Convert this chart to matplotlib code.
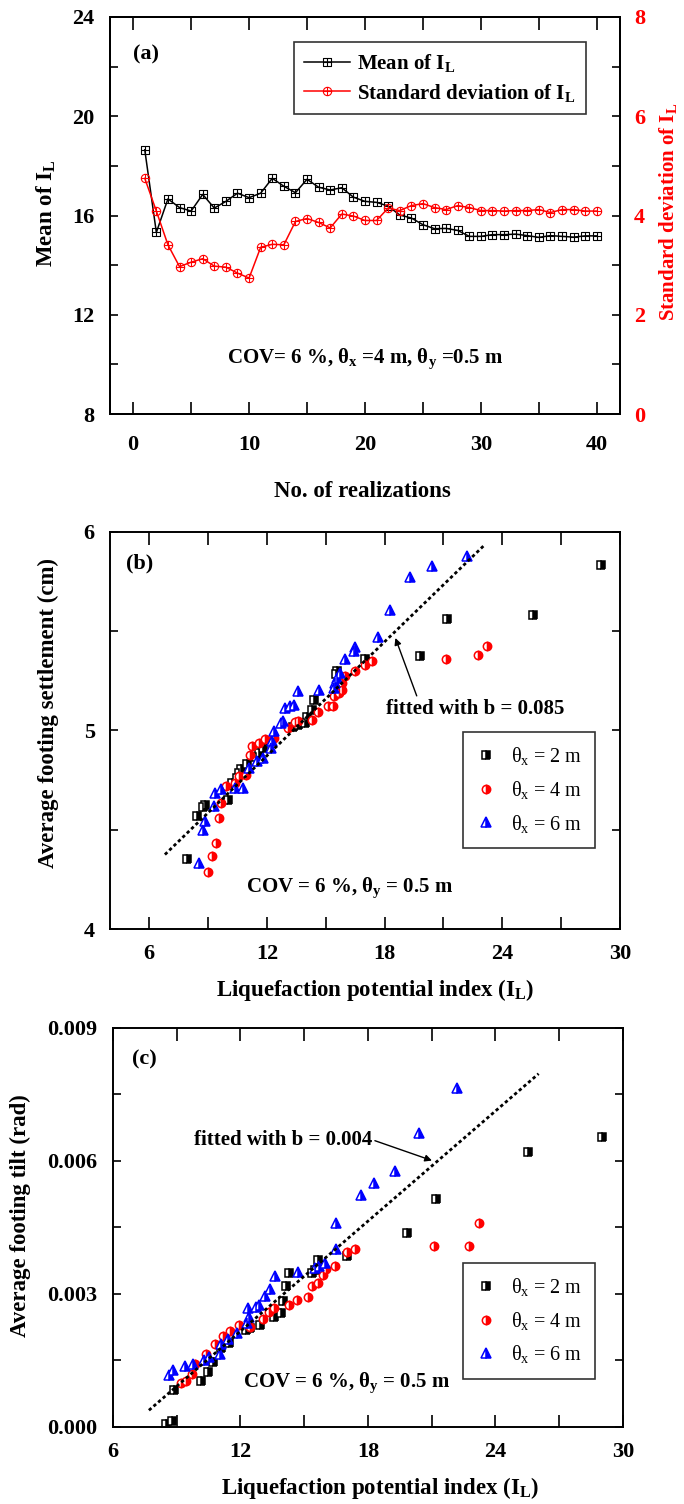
import matplotlib
matplotlib.use("Agg")
import matplotlib.pyplot as plt
from matplotlib.path import Path
from matplotlib.ticker import MultipleLocator, FormatStrFormatter

plt.rcParams['font.family'] = ['Liberation Serif', 'DejaVu Serif']
plt.rcParams['mathtext.fontset'] = 'custom'
plt.rcParams['mathtext.rm'] = 'Liberation Serif'
plt.rcParams['mathtext.it'] = 'Liberation Serif'
plt.rcParams['mathtext.bf'] = 'Liberation Serif:bold'

# ---------------- data: panel (a) ----------------
realizations = list(range(1, 41))
mean_IL = [18.65, 15.32, 16.67, 16.32, 16.18, 16.85, 16.3, 16.57, 16.9, 16.72,
           16.9, 17.5, 17.18, 16.92, 17.46, 17.14, 17.03, 17.12, 16.74, 16.57,
           16.53, 16.38, 16.02, 15.9, 15.63, 15.47, 15.48, 15.4, 15.16, 15.16,
           15.23, 15.23, 15.25, 15.19, 15.12, 15.19, 15.16, 15.13, 15.18, 15.18]
std_IL = [4.75, 4.09, 3.41, 2.97, 3.06, 3.13, 2.98, 2.96, 2.84, 2.74,
          3.36, 3.42, 3.41, 3.88, 3.94, 3.86, 3.75, 4.03, 3.99, 3.90,
          3.90, 4.15, 4.10, 4.20, 4.24, 4.16, 4.12, 4.20, 4.16, 4.10,
          4.10, 4.09, 4.10, 4.10, 4.12, 4.06, 4.12, 4.12, 4.09, 4.09]

# ---------------- data: panel (b) settlement ----------------
b_x2_IL = [29.03, 25.55, 21.2, 19.8, 16.98, 15.56, 15.52, 14.42, 14.28, 14.06,
           13.95, 13.61, 13.34, 11.81, 11.59, 11.43, 10.98, 10.69, 10.58, 10.47,
           10.24, 10.02, 8.85, 8.72, 8.45, 7.95]
b_x2_S = [5.832, 5.58, 5.56, 5.374, 5.36, 5.30, 5.286, 5.155, 5.105, 5.07,
          5.04, 5.03, 5.02, 4.91, 4.887, 4.867, 4.833, 4.806, 4.786, 4.76,
          4.735, 4.65, 4.626, 4.614, 4.571, 4.353]
b_x4_IL = [23.22, 22.77, 21.15, 17.38, 16.98, 16.48, 15.97, 15.85, 15.81, 15.67,
           15.41, 15.36, 15.14, 14.62, 14.28, 13.61, 13.43, 13.05, 12.37, 11.92,
           11.59, 11.25, 11.14, 10.92, 10.58, 10.35, 9.91, 9.68, 9.57, 9.39,
           9.19, 8.99]
b_x4_S = [5.424, 5.382, 5.36, 5.348, 5.332, 5.298, 5.273, 5.239, 5.206, 5.189,
          5.172, 5.125, 5.122, 5.092, 5.055, 5.046, 5.041, 5.013, 4.962, 4.957,
          4.937, 4.924, 4.878, 4.778, 4.772, 4.735, 4.719, 4.635, 4.56, 4.433,
          4.369, 4.287]
b_x6_IL = [22.18, 20.41, 19.27, 18.26, 17.65, 16.48, 16.42, 15.97, 15.74, 15.58,
           15.45, 15.41, 14.67, 13.61, 13.38, 13.16, 12.94, 12.82, 12.71, 12.37,
           12.26, 12.22, 11.81, 11.48, 11.1, 10.76, 10.35, 9.68, 9.34, 9.3,
           8.85, 8.72, 8.56]
b_x6_S = [5.881, 5.827, 5.773, 5.605, 5.471, 5.419, 5.399, 5.36, 5.29, 5.264,
          5.239, 5.214, 5.202, 5.197, 5.13, 5.122, 5.113, 5.046, 5.038, 4.996,
          4.945, 4.912, 4.861, 4.845, 4.811, 4.71, 4.71, 4.705, 4.685, 4.618,
          4.542, 4.497, 4.332]
b_fit_IL = [6.8, 23.1]
b_fit_S = [4.375, 5.935]

# ---------------- data: panel (c) tilt ----------------
c_x2_IL = [29.0, 25.52, 21.18, 19.82, 16.99, 15.64, 15.5, 15.38, 14.3, 14.14,
           13.99, 13.89, 13.58, 12.92, 12.44, 12.24, 11.45, 11.1, 10.69, 10.48,
           10.13, 8.89, 8.77, 8.48]
c_x2_T = [0.006537, 0.006213, 0.005143, 0.004368, 0.003864, 0.003766, 0.00354,
          0.003465, 0.003465, 0.003186, 0.002847, 0.002576, 0.002485, 0.002297,
          0.002222, 0.002199, 0.001898, 0.001792, 0.001469, 0.001243, 0.001039,
          0.000844, 0.000136, 0.000075]
c_x4_IL = [23.22, 21.12, 22.73, 17.4, 16.99, 16.47, 16.02, 15.86, 15.64, 15.38,
           15.19, 14.67, 14.3, 13.58, 13.33, 13.06, 12.44, 11.93, 11.51, 11.16,
           10.79, 10.38, 9.86, 9.7, 9.45, 9.18]
c_x4_T = [0.004594, 0.004082, 0.004082, 0.004007, 0.003939, 0.003638, 0.003562,
          0.003427, 0.003239, 0.003178, 0.002922, 0.002862, 0.002749, 0.002674,
          0.002598, 0.002425, 0.002259, 0.002297, 0.002169, 0.002049, 0.001883,
          0.001642, 0.001431, 0.001205, 0.001039, 0.000994]
c_x6_IL = [22.21, 20.39, 19.26, 18.27, 17.69, 16.51, 16.51, 15.99, 15.71, 15.5,
           14.72, 13.62, 13.41, 13.17, 12.86, 12.75, 12.36, 12.4, 12.3, 11.82,
           11.41, 11.1, 11.04, 10.54, 10.28, 9.76, 9.39, 8.83, 8.62]
c_x6_T = [0.007644, 0.006642, 0.005784, 0.005513, 0.005234, 0.004609, 0.004007,
          0.00369, 0.00363, 0.003577, 0.003487, 0.003404, 0.003103, 0.00296,
          0.002749, 0.002711, 0.002689, 0.002485, 0.002335, 0.002109, 0.001996,
          0.001883, 0.001657, 0.001582, 0.001506, 0.001431, 0.001371, 0.00128,
          0.001167]
c_fit_IL = [7.69, 26.03]
c_fit_T = [0.000377, 0.007968]

# ---------------- marker shapes ----------------
sq_plus = Path([(-1, -1), (1, -1), (1, 1), (-1, 1), (-1, -1),
                (-1, 0), (1, 0), (0, -1), (0, 1)],
               [Path.MOVETO, Path.LINETO, Path.LINETO, Path.LINETO, Path.CLOSEPOLY,
                Path.MOVETO, Path.LINETO, Path.MOVETO, Path.LINETO])
cross = Path([(-1, 0), (1, 0), (0, -1), (0, 1)],
             [Path.MOVETO, Path.LINETO, Path.MOVETO, Path.LINETO])
circ_plus = Path.make_compound_path(Path.unit_circle(), cross)

TICK = 16
LAB = 16.5
fig = plt.figure(figsize=(6.84, 15.04), dpi=100)


def style_axes(ax, xmaj, xmin, ymaj, ymin, xpad, right=True):
    ax.xaxis.set_major_locator(MultipleLocator(xmaj))
    ax.xaxis.set_minor_locator(MultipleLocator(xmin))
    ax.yaxis.set_major_locator(MultipleLocator(ymaj))
    ax.yaxis.set_minor_locator(MultipleLocator(ymin))
    ax.tick_params(which='both', direction='in', top=True, right=right,
                   width=1.2, labelsize=TICK)
    ax.tick_params(axis='x', which='both', length=9, pad=xpad)
    ax.tick_params(axis='y', which='both', length=6, pad=11)
    for lab in ax.get_xticklabels() + ax.get_yticklabels():
        lab.set_fontweight('bold')
    for s in ax.spines.values():
        s.set_linewidth(1.4)


def place_labels(ax, xl, yl):
    ax.xaxis.set_label_coords(*xl)
    ax.xaxis.label.set_verticalalignment('center')
    ax.yaxis.set_label_coords(*yl)
    ax.yaxis.label.set_verticalalignment('center')


# ================= panel (a) =================
axa = fig.add_axes([0.1608, 0.7247, 0.7456, 0.264])
axa.plot(realizations, mean_IL, color='black', lw=1.1, marker=sq_plus,
         ms=5.5, mfc='none', mec='black', mew=0.8, label=r'Mean of I$_\mathbf{L}$')
axa.set_xlim(-2, 42)
axa.set_ylim(8, 24)
style_axes(axa, 10, 5, 4, 2, xpad=15, right=False)
axa.set_xlabel('No. of realizations', fontsize=LAB, fontweight='bold')
axa.set_ylabel(r'Mean of I$_\mathbf{L}$', fontsize=LAB, fontweight='bold')
place_labels(axa, (0.495, -0.196), (-0.1255, 0.505))

axa2 = axa.twinx()
axa2.plot(realizations, std_IL, color='red', lw=1.1, marker=circ_plus,
          ms=6, mfc='none', mec='red', mew=0.8,
          label=r'Standard deviation of I$_\mathbf{L}$')
axa2.set_ylim(0, 8)
axa2.yaxis.set_major_locator(MultipleLocator(2))
axa2.yaxis.set_minor_locator(MultipleLocator(1))
axa2.tick_params(which='both', direction='in', length=6, width=1.2,
                 labelsize=TICK, labelcolor='red', pad=10)
for lab in axa2.get_yticklabels():
    lab.set_fontweight('bold')
axa2.set_ylabel(r'Standard deviation of I$_\mathbf{L}$', fontsize=15,
                fontweight='bold', color='red')
axa2.yaxis.set_label_coords(1.094, 0.51)
axa2.yaxis.label.set_verticalalignment('center')
for s in axa2.spines.values():
    s.set_linewidth(1.4)

h1, l1 = axa.get_legend_handles_labels()
h2, l2 = axa2.get_legend_handles_labels()
leg = axa2.legend(h1 + h2, l1 + l2, loc='upper left', bbox_to_anchor=(0.36, 0.937),
                  borderaxespad=0, frameon=True, fancybox=False, edgecolor='black',
                  handlelength=2.2, handletextpad=0.35,
                  prop={'weight': 'bold', 'size': 15}, borderpad=0.5,
                  labelspacing=0.35)
leg.get_frame().set_linewidth(1.2)
axa.text(0.07, 0.905, '(a)', transform=axa.transAxes, fontsize=16,
         fontweight='bold', ha='center', va='center')
axa.text(0.5, 0.14, r'COV= 6 %, $\mathbf{\theta_x}$ =4 m, $\mathbf{\theta_y}$ =0.5 m',
         transform=axa.transAxes, fontsize=15, fontweight='bold',
         ha='center', va='center')


# ================= panels (b), (c) helper =================
def scatter_panel(ax, sets, fit_x, fit_y):
    styles = [dict(marker='s', ms=5.3, color='black'),
              dict(marker='o', ms=6.0, color='red'),
              dict(marker='^', ms=6.5, color='blue')]
    labels = [r'$\theta_x$ = 2 m', r'$\theta_x$ = 4 m', r'$\theta_x$ = 6 m']
    for (xs, ys), st, lb in zip(sets, styles, labels):
        ax.plot(xs, ys, ls='none', marker=st['marker'], ms=st['ms'],
                mec=st['color'], mfc=st['color'], mfcalt='white',
                fillstyle='right', mew=1.1, label=lb)
    ax.plot(fit_x, fit_y, ls=(0, (1.2, 1.0)), color='black', lw=2.0)


def make_legend(ax, anchor):
    lg = ax.legend(loc='upper left', bbox_to_anchor=anchor, borderaxespad=0,
                   frameon=True, fancybox=False, edgecolor='black',
                   prop={'size': 14.5}, handletextpad=0.75, borderpad=0.65,
                   labelspacing=0.58, handlelength=1.0)
    lg.get_frame().set_linewidth(1.2)


# ================= panel (b) =================
axb = fig.add_axes([0.1608, 0.3823, 0.7456, 0.264])
scatter_panel(axb, [(b_x2_IL, b_x2_S), (b_x4_IL, b_x4_S), (b_x6_IL, b_x6_S)],
              b_fit_IL, b_fit_S)
axb.set_xlim(4, 30)
axb.set_ylim(4, 6)
style_axes(axb, 6, 3, 1, 0.5, xpad=11)
axb.set_xlabel(r'Liquefaction potential index (I$_\mathbf{L}$)', fontsize=LAB,
               fontweight='bold')
axb.set_ylabel('Average footing settlement (cm)', fontsize=LAB, fontweight='bold')
place_labels(axb, (0.52, -0.154), (-0.1216, 0.545))
axb.text(5.5, 5.84, '(b)', fontsize=16, fontweight='bold', ha='center', va='center')
axb.text(16.2, 4.21, r'COV = 6 %, $\mathbf{\theta_y}$ = 0.5 m', fontsize=15,
         fontweight='bold', ha='center', va='center')
axb.annotate('fitted with b = 0.085', xy=(18.55, 5.466), xytext=(22.6, 5.11),
             fontsize=15, fontweight='bold', ha='center', va='center',
             arrowprops=dict(arrowstyle='-|>', color='black', lw=1.0,
                             shrinkA=0, shrinkB=0, mutation_scale=10,
                             relpos=(0.18, 1.0)))
make_legend(axb, (0.692, 0.496))

# ================= panel (c) =================
axc = fig.add_axes([0.1652, 0.0512, 0.7456, 0.2653])
scatter_panel(axc, [(c_x2_IL, c_x2_T), (c_x4_IL, c_x4_T), (c_x6_IL, c_x6_T)],
              c_fit_IL, c_fit_T)
axc.set_xlim(6, 30)
axc.set_ylim(0, 0.009)
style_axes(axc, 6, 3, 0.003, 0.0015, xpad=11)
axc.yaxis.set_major_formatter(FormatStrFormatter('%.3f'))
for lab in axc.get_yticklabels():
    lab.set_fontweight('bold')
axc.set_xlabel(r'Liquefaction potential index (I$_\mathbf{L}$)', fontsize=LAB,
               fontweight='bold')
axc.set_ylabel('Average footing tilt (rad)', fontsize=LAB, fontweight='bold')
place_labels(axc, (0.523, -0.153), (-0.182, 0.529))
axc.text(7.5, 0.00828, '(c)', fontsize=16, fontweight='bold', ha='center', va='center')
axc.text(17.0, 0.00099, r'COV = 6 %, $\mathbf{\theta_y}$ = 0.5 m', fontsize=15,
         fontweight='bold', ha='center', va='center')
axc.annotate('fitted with b = 0.004', xy=(21.01, 0.00601), xytext=(14.0, 0.00648),
             fontsize=15, fontweight='bold', ha='center', va='center',
             arrowprops=dict(arrowstyle='-|>', color='black', lw=1.0,
                             shrinkA=0, shrinkB=0, mutation_scale=10,
                             relpos=(1.0, 0.5)))
make_legend(axc, (0.686, 0.411))

fig.savefig('out.png', dpi=100)
